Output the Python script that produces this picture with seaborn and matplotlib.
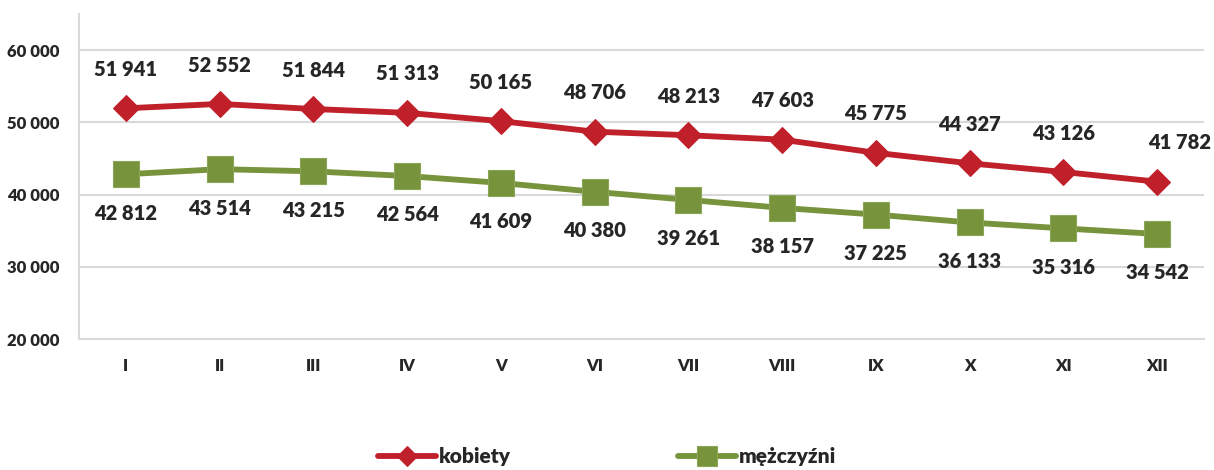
import matplotlib
matplotlib.use("Agg")
import matplotlib.pyplot as plt
import seaborn as sns
import pandas as pd
import numpy as np
from matplotlib.ticker import FuncFormatter, FixedLocator

months = ["I", "II", "III", "IV", "V", "VI", "VII", "VIII", "IX", "X", "XI", "XII"]
kobiety = [51941, 52552, 51844, 51313, 50165, 48706, 48213, 47603, 45775, 44327, 43126, 41782]
mezczyzni = [42812, 43514, 43215, 42564, 41609, 40380, 39261, 38157, 37225, 36133, 35316, 34542]
series_names = ["kobiety", "mężczyźni"]
y_ticks = [20000, 30000, 40000, 50000, 60000]

sns.set_style("white")
plt.rcParams["font.family"] = ["Lato", "DejaVu Sans"]
W = "heavy"
plt.rcParams["font.weight"] = W

RED = "#C0202A"
GREEN = "#77933C"
TXT = "#262626"

fig = plt.figure(figsize=(12.14, 4.70), dpi=100)
ax = fig.add_axes([79/1214, 1-339/470, (1204-79)/1214, (339-14)/470])

x = np.arange(len(months))
df = pd.DataFrame({"x": np.concatenate([x, x]),
                   "val": kobiety + mezczyzni,
                   "series": [series_names[0]]*12 + [series_names[1]]*12})

sns.lineplot(data=df[df.series == series_names[0]], x="x", y="val", ax=ax,
             color=RED, lw=4.2, marker="D", markersize=13, markeredgecolor=RED,
             label=series_names[0], legend=False)
sns.lineplot(data=df[df.series == series_names[1]], x="x", y="val", ax=ax,
             color=GREEN, lw=4.2, marker="s", markersize=19, markeredgecolor="#8AA556",
             markeredgewidth=0.8, label=series_names[1], legend=False)

def fmt(v):
    return f"{v:,}".replace(",", " ")

for i, v in enumerate(kobiety):
    dx = 16 if i == len(kobiety) - 1 else 0
    ax.annotate(fmt(v), (x[i], v), xytext=(dx, 28), textcoords="offset points",
                ha="center", va="center", fontsize=14.5, fontweight=W, color=TXT)
for i, v in enumerate(mezczyzni):
    ax.annotate(fmt(v), (x[i], v), xytext=(0, -28), textcoords="offset points",
                ha="center", va="center", fontsize=14.5, fontweight=W, color=TXT)

ax.set_xlim(-0.5, len(months) - 0.5)
ax.set_ylim(20000, 65000)
ax.set_yticks(y_ticks)
ax.yaxis.set_major_formatter(FuncFormatter(lambda v, p: fmt(int(v))))
ax.set_xticks(x)
ax.set_xticklabels(months)
ax.xaxis.set_minor_locator(FixedLocator(np.arange(-0.5, len(months), 1.0)))
ax.tick_params(axis="x", which="major", length=0, pad=14, labelsize=12, labelcolor=TXT)
ax.tick_params(axis="x", which="minor", length=6, width=1.5, color="#D9D9D9", direction="out")
ax.tick_params(axis="y", which="major", length=6, width=1.5, color="#D9D9D9", direction="out",
               pad=8, labelsize=12, labelcolor=TXT)
for lab in ax.get_xticklabels() + ax.get_yticklabels():
    lab.set_fontweight(W)

ax.grid(axis="y", color="#D9D9D9", lw=1.5)
ax.set_axisbelow(True)
for s in ["top", "right"]:
    ax.spines[s].set_visible(False)
for s in ["left", "bottom"]:
    ax.spines[s].set_color("#D9D9D9")
    ax.spines[s].set_linewidth(1.5)
ax.set_xlabel("")
ax.set_ylabel("")

handles, labels = ax.get_legend_handles_labels()
leg = fig.legend(handles, labels, loc="center", bbox_to_anchor=(0.5, 1-457/470),
                 ncol=2, frameon=False, handlelength=2.8, handletextpad=0.15,
                 columnspacing=8.0, prop={"size": 15, "weight": W}, markerscale=0.75,
                 borderpad=0.1)
for t in leg.get_texts():
    t.set_color(TXT)

fig.savefig("out.png", dpi=100)
